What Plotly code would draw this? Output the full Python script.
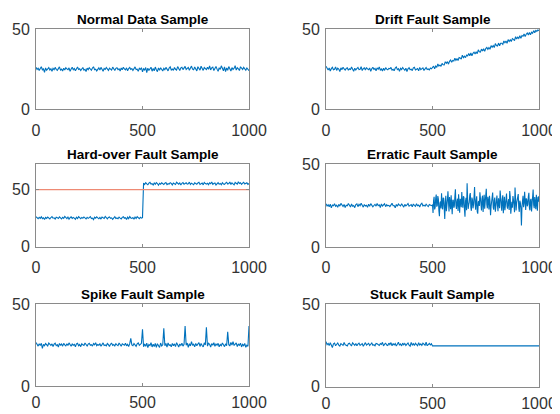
import plotly.graph_objects as go

# sample index (every 5th sample of 1000)
x = list(range(0, 1001, 5))

normal_y = [
    26.3, 24.9, 25.7, 24.2, 25.5, 26.6, 24.7, 25.2, 23.1, 25.9,
    24.4, 25.8, 26.1, 24.6, 25.3, 23.8, 25.6, 24.8, 26.2, 25.0,
    24.3, 25.4, 26.5, 24.5, 25.1, 23.9, 25.7, 24.6, 26.0, 25.3,
    24.8, 25.9, 23.7, 25.2, 26.3, 24.7, 25.5, 24.1, 25.8, 26.4,
    24.9, 25.3, 24.2, 25.6, 26.1, 24.5, 25.0, 23.6, 25.7, 24.8,
    26.0, 25.2, 24.4, 25.8, 26.6, 24.7, 25.1, 24.0, 25.4, 25.9,
    24.6, 26.2, 25.0, 23.8, 25.5, 24.9, 26.1, 25.3, 24.3, 25.7,
    25.1, 24.5, 26.4, 25.0, 24.2, 25.6, 26.0, 24.8, 25.3, 23.9,
    25.8, 24.7, 26.3, 25.2, 24.6, 25.9, 24.1, 25.5, 26.2, 24.9,
    25.4, 24.3, 25.7, 26.5, 24.8, 25.1, 23.7, 25.6, 24.9, 26.0,
    23.4, 25.3, 24.6, 26.1, 22.9, 25.7, 24.2, 25.0, 26.3, 23.8,
    25.5, 24.1, 26.4, 24.7, 23.5, 25.9, 24.4, 26.0, 25.1, 23.9,
    25.6, 24.8, 26.2, 25.3, 24.0, 25.8, 26.5, 24.6, 25.2, 24.3,
    26.1, 25.0, 24.5, 26.7, 25.4, 24.2, 25.9, 26.3, 24.8, 25.5,
    26.8, 24.9, 25.7, 26.2, 24.4, 25.6, 27.0, 25.1, 24.7, 26.4,
    25.3, 24.0, 26.6, 25.8, 24.5, 26.9, 25.2, 24.3, 26.1, 25.6,
    24.8, 26.3, 25.0, 27.1, 24.6, 25.9, 26.4, 24.2, 25.5, 26.8,
    25.1, 23.7, 26.0, 24.9, 27.2, 25.4, 24.1, 26.5, 23.6, 25.8,
    24.4, 26.7, 25.2, 23.9, 26.1, 24.8, 25.6, 27.3, 24.5, 26.0,
    25.3, 24.2, 26.6, 25.7, 24.9, 26.2, 25.0, 24.4, 25.8, 24.6,
    24.1,
]

drift_y = [
    26.9, 25.2, 24.6, 25.8, 23.9, 25.4, 26.2, 24.7, 25.0, 26.5,
    24.3, 25.7, 25.1, 23.6, 25.9, 24.8, 26.3, 25.2, 24.5, 25.6,
    26.0, 24.4, 25.3, 24.9, 26.4, 25.1, 23.8, 25.7, 24.6, 25.5,
    26.2, 24.8, 25.0, 26.6, 24.2, 25.4, 25.9, 24.5, 26.1, 25.2,
    24.7, 25.8, 23.7, 25.3, 26.3, 24.9, 25.5, 24.1, 25.9, 25.0,
    26.4, 24.6, 25.2, 23.9, 25.7, 24.3, 26.0, 25.1, 24.7, 25.6,
    25.3, 26.2, 24.5, 25.0, 24.1, 25.8, 26.5, 24.8, 25.4, 23.8,
    25.6, 24.9, 26.1, 25.2, 24.4, 25.7, 23.6, 25.3, 26.0, 24.7,
    25.1, 24.2, 25.9, 26.3, 24.6, 25.0, 25.5, 24.0, 26.2, 24.8,
    25.4, 25.9, 24.3, 25.7, 26.1, 24.9, 25.2, 24.6, 25.8, 25.3,
    25.9,
    27.0, 25.3, 27.0, 26.2, 28.3, 27.0, 27.7, 26.8, 28.7, 27.8,
    27.7, 29.7, 28.8, 29.8, 28.2, 30.0, 30.8, 29.4, 30.5, 30.2,
    31.9, 30.6, 31.6, 30.5, 32.4, 32.1, 31.4, 33.8, 32.3, 33.2,
    32.3, 33.9, 33.4, 34.9, 33.5, 35.2, 33.5, 35.0, 35.7, 34.6,
    35.9, 34.8, 37.2, 36.0, 35.8, 37.6, 36.5, 37.8, 36.2, 38.0,
    38.7, 37.5, 38.6, 37.5, 39.8, 38.8, 39.8, 38.6, 41.1, 39.8,
    39.5, 41.4, 39.7, 41.3, 41.3, 40.6, 42.7, 41.6, 42.7, 41.2,
    43.6, 42.4, 43.4, 42.4, 44.2, 43.7, 43.0, 45.4, 44.0, 45.1,
    44.3, 46.0, 44.3, 46.1, 45.7, 47.1, 45.5, 46.9, 47.7, 46.4,
    48.0, 46.6, 48.2, 47.5, 49.2, 47.8, 49.3, 48.7, 49.7, 49.1,
]

hardover_y = [
    26.2, 25.0, 24.4, 25.7, 24.8, 26.1, 24.5, 25.3, 23.8, 25.6,
    24.7, 25.9, 25.1, 24.3, 25.5, 26.3, 24.9, 25.2, 24.1, 25.8,
    25.4, 24.6, 26.0, 25.1, 24.2, 25.7, 24.8, 26.4, 25.0, 24.5,
    25.9, 24.0, 25.3, 26.1, 24.7, 25.5, 25.0, 23.9, 25.8, 24.6,
    26.2, 25.1, 24.4, 25.6, 24.9, 26.0, 25.3, 24.2, 25.7, 24.8,
    25.4, 26.3, 24.6, 25.0, 23.7, 25.8, 24.9, 26.1, 25.2, 24.5,
    25.6, 24.1, 25.9, 25.3, 24.7, 26.4, 25.0, 24.3, 25.5, 26.0,
    24.8, 25.2, 23.9, 25.7, 26.2, 24.6, 25.1, 24.4, 25.9, 25.0,
    24.3, 25.6, 26.1, 24.9, 25.4, 23.8, 25.8, 24.5, 26.3, 25.1,
    24.7, 25.5, 24.0, 25.9, 24.6, 26.2, 25.3, 24.4, 25.7, 24.9,
    25.4,
    55.8, 54.6, 56.1, 55.0, 54.3, 55.7, 56.4, 54.9, 55.3, 54.1,
    55.9, 54.7, 56.2, 55.4, 53.9, 55.6, 54.8, 56.0, 55.1, 54.5,
    55.7, 56.3, 54.4, 55.2, 54.9, 56.1, 55.5, 54.2, 55.8, 55.0,
    54.6, 56.5, 55.3, 54.8, 55.9, 54.1, 55.6, 56.2, 54.7, 55.4,
    56.0, 54.9, 55.2, 56.6, 54.5, 55.7, 55.0, 54.3, 56.1, 55.5,
    54.8, 55.9, 56.4, 54.6, 55.1, 55.8, 54.2, 56.3, 55.3, 54.9,
    55.6, 54.4, 56.0, 55.2, 56.7, 54.7, 55.4, 55.9, 54.1, 55.7,
    56.2, 54.8, 55.5, 54.3, 56.1, 55.0, 54.6, 55.8, 56.5, 54.9,
    55.3, 56.8, 54.5, 55.9, 55.1, 54.2, 56.3, 55.6, 54.8, 57.0,
    55.4, 56.1, 54.7, 55.8, 56.4, 54.9, 55.2, 56.0, 54.6, 55.5,
]
threshold_x = [0, 1000]
threshold_y = [50, 50]

# erratic part is sampled twice as densely (every 2.5) after 500
erratic_x = x[:101] + [500 + 2.5 * k for k in range(1, 201)]
erratic_y = [
    26.0, 24.7, 25.5, 24.2, 25.8, 23.6, 25.3, 24.9, 26.1, 24.5,
    25.2, 23.9, 25.7, 24.6, 26.3, 25.0, 24.4, 25.6, 23.8, 25.1,
    24.8, 26.2, 25.4, 24.1, 25.9, 24.6, 25.0, 23.7, 25.5, 26.0,
    24.3, 25.7, 24.9, 26.4, 25.2, 24.0, 25.6, 24.7, 25.1, 23.9,
    25.8, 24.5, 26.1, 25.3, 24.2, 25.0, 25.7, 24.6, 26.2, 24.9,
    25.4, 23.8, 25.9, 24.7, 25.2, 26.0, 24.3, 25.5, 24.8, 25.1,
    24.4, 25.8, 26.3, 24.9, 25.0, 23.6, 25.6, 24.5, 25.9, 25.2,
    24.7, 26.1, 25.3, 24.0, 25.7, 24.8, 25.4, 26.2, 24.6, 25.0,
    25.5, 24.2, 25.9, 25.1, 24.5, 26.0, 24.9, 25.3, 24.1, 25.7,
    26.4, 24.8, 25.2, 24.6, 25.8, 25.0, 24.3, 25.6, 25.1, 24.9,
    25.3,
    20.5, 27.8, 30.2, 22.6, 23.8, 29.4, 31.6, 24.3, 25.1, 30.7,
    28.9, 21.9, 18.6, 26.5, 27.4, 23.2, 32.3, 25.8, 22.7, 29.6,
    29.3, 23.5, 16.9, 27.1, 30.8, 21.5, 24.2, 28.3, 33.5, 24.9,
    21.4, 30.1, 27.0, 22.8, 31.2, 26.4, 19.8, 28.0, 28.5, 23.6,
    24.6, 30.4, 34.8, 25.2, 22.9, 27.5, 29.1, 21.7, 31.7, 26.1,
    20.6, 29.0, 27.9, 23.9, 33.1, 26.8, 23.7, 30.6, 30.0, 22.4,
    18.3, 27.7, 29.6, 22.1, 38.4, 28.6, 23.0, 25.5, 26.8, 31.3,
    32.5, 24.0, 21.8, 29.8, 28.4, 23.3, 25.3, 30.3, 36.2, 26.3,
    22.4, 28.2, 30.5, 21.3, 20.1, 27.2, 27.6, 24.7, 33.0, 29.5,
    24.5, 22.0, 29.2, 30.9, 21.1, 26.6, 31.4, 23.1, 26.0, 28.7,
    35.1, 25.6, 23.3, 30.2, 28.0, 22.6, 30.9, 27.3, 19.2, 24.4,
    26.7, 31.8, 32.8, 23.8, 22.5, 28.1, 29.8, 21.2, 25.0, 30.0,
    31.0, 24.8, 21.6, 29.4, 27.5, 23.4, 34.0, 26.9, 24.1, 21.8,
    28.7, 31.1, 20.4, 25.7, 30.3, 22.2, 26.2, 29.1, 32.2, 24.6,
    23.1, 27.0, 28.8, 22.3, 33.7, 30.5, 20.0, 25.9, 27.3, 23.7,
    30.7, 28.4, 25.4, 21.0, 35.9, 29.7, 22.0, 26.5, 28.1, 31.6,
    31.9, 23.5, 21.2, 27.9, 26.6, 22.9, 13.0, 24.2, 29.5, 30.8,
    24.0, 26.1, 33.3, 22.7, 22.3, 29.3, 28.6, 24.5, 25.7, 30.4,
    32.6, 23.6, 22.1, 28.3, 29.0, 21.4, 24.8, 27.8, 34.6, 25.3,
    23.4, 30.1, 27.7, 22.8, 31.5, 26.4, 21.9, 29.9, 30.1, 27.2,
]

spike_y = [
    26.5, 25.1, 24.3, 25.8, 24.7, 26.0, 22.9, 25.4, 24.6, 25.9,
    25.0, 24.4, 26.2, 25.3, 24.8, 25.7, 24.1, 25.5, 26.1, 24.6,
    25.2, 23.8, 25.9, 24.9, 25.6, 24.3, 26.0, 25.1, 24.5, 25.8,
    24.7, 26.3, 25.0, 24.2, 25.6, 24.9, 25.4, 23.9, 25.7, 26.1,
    24.6, 25.3, 24.0, 25.8, 25.1, 24.7, 26.2, 25.0, 24.4, 25.5,
    26.0, 24.8, 25.2, 24.3, 25.9, 25.1, 26.4, 24.6, 25.3, 24.9,
    25.7, 24.2, 25.5, 26.3, 24.7, 25.0, 24.5, 25.9, 25.2, 24.1,
    25.6, 26.0, 24.8, 25.3, 24.4, 25.8, 25.1, 24.6, 26.2, 25.0,
    24.3, 25.7, 25.2, 24.9, 26.1, 24.5, 25.4, 24.0, 25.8, 29.0,
    25.1, 24.6, 25.9, 25.3, 24.2, 25.7, 26.3, 24.8, 25.5, 26.0,
    34.6,
    23.9, 25.6, 24.2, 26.1, 23.4, 25.3, 24.7, 26.4, 23.8, 25.5,
    24.1, 26.0, 23.6, 25.8, 24.9, 23.5, 26.2, 24.4, 25.1, 35.2,
    24.6, 25.9, 23.7, 26.3, 24.8, 25.2, 23.9, 26.0, 24.5, 25.7,
    24.0, 26.4, 25.1, 23.8, 25.6, 24.7, 26.1, 24.3, 25.4, 36.6,
    24.9, 26.2, 23.6, 25.8, 24.4, 27.1, 24.8, 25.5, 23.9, 26.0,
    24.6, 25.3, 26.5, 24.1, 25.9, 24.7, 23.8, 26.3, 25.0, 35.8,
    24.3, 26.1, 25.4, 23.7, 25.8, 24.9, 26.4, 24.2, 25.6, 24.8,
    26.0, 23.9, 25.3, 24.6, 26.2, 25.1, 24.0, 25.7, 24.5, 33.1,
    25.2, 24.4, 26.6, 25.0, 27.0, 24.7, 25.8, 26.3, 24.1, 25.5,
    24.8, 26.1, 23.8, 25.4, 24.6, 25.9, 23.6, 24.9, 24.2, 36.6,
]

stuck_y = [
    27.2, 25.4, 26.1, 24.8, 26.5, 25.0, 23.6, 25.9, 26.3, 24.7,
    25.8, 26.4, 25.1, 24.5, 26.0, 25.6, 24.9, 26.7, 25.3, 25.0,
    24.6, 25.9, 26.2, 25.2, 24.8, 26.5, 25.4, 25.0, 26.1, 24.7,
    25.7, 26.3, 24.9, 25.5, 26.0, 24.4, 25.8, 26.6, 25.1, 25.4,
    26.2, 24.8, 25.6, 26.4, 25.0, 25.3, 24.7, 26.1, 25.9, 25.2,
    24.9, 26.0, 25.5, 26.8, 24.6, 25.7, 26.2, 25.1, 24.8, 26.3,
    25.4, 26.6, 24.7, 25.9, 25.2, 26.0, 24.5, 25.6, 26.9, 25.0,
    25.8, 24.6, 26.3, 25.3, 26.1, 24.9, 25.7, 26.4, 25.0, 24.4,
    26.7, 25.2, 25.9, 24.8, 26.2, 25.5, 24.7, 26.5, 25.1, 25.8,
    24.9, 26.3, 25.6, 25.0, 26.8, 24.7, 25.4, 26.1, 25.2, 25.9,
    24.6, 24.6,
]
stuck_x = x[:101] + [1000]

titles = ["Normal Data Sample", "Drift Fault Sample", "Hard-over Fault Sample",
          "Erratic Fault Sample", "Spike Fault Sample", "Stuck Fault Sample"]

blue = "#0072BD"
# the page body adds an 8px margin, so the figure is drawn 8px smaller
OFF = 8
W, H = 560 - OFF, 414 - OFF
# panel boxes in window pixels: (left, right, top, bottom)
boxes = [
    (36, 249, 29.3, 109.3), (326, 539, 29.3, 109.3),
    (36, 249, 163.5, 246.5), (326, 539, 164, 247),
    (36, 249, 304, 386), (326, 539, 304, 386.5),
]
yranges = [[0, 50], [0, 50], [0, 73], [0, 50], [0, 50], [0, 50]]
x_standoff = [6, 6, 6, 6, 2, 2]

fig = go.Figure()
series = [(x, normal_y), (x, drift_y), (x, hardover_y),
          (erratic_x, erratic_y), (x, spike_y), (stuck_x, stuck_y)]
for i, (sx, sy) in enumerate(series):
    ax = "" if i == 0 else str(i + 1)
    fig.add_trace(go.Scatter(x=sx, y=sy, mode="lines", line=dict(color=blue, width=1.1),
                             xaxis="x" + ax, yaxis="y" + ax, hoverinfo="skip"))
    if i == 2:
        fig.add_trace(go.Scatter(x=threshold_x, y=threshold_y, mode="lines",
                                 line=dict(color="#EE8A74", width=1.2),
                                 xaxis="x3", yaxis="y3", hoverinfo="skip"))

axis_style = dict(showline=True, mirror="ticks", linecolor="#8a8a8a", linewidth=1,
                  ticks="inside", ticklen=3, tickcolor="#8a8a8a", showgrid=False,
                  zeroline=False, automargin=False,
                  tickfont=dict(size=16, color="#333333", family="Liberation Sans, Arial"))
layout = dict(width=W, height=H, margin=dict(l=0, r=0, t=0, b=0),
              paper_bgcolor="white", plot_bgcolor="white", showlegend=False,
              annotations=[])
for i, (l, r, t, b) in enumerate(boxes):
    ax = "" if i == 0 else str(i + 1)
    l, r, t, b = l - OFF, r - OFF, t - OFF, b - OFF
    layout["xaxis" + ax] = dict(axis_style, domain=[l / W, r / W], range=[0, 1000],
                                tickvals=[0, 500, 1000], anchor="y" + ax,
                                ticklabelstandoff=x_standoff[i])
    layout["yaxis" + ax] = dict(axis_style, domain=[1 - b / H, 1 - t / H],
                                range=yranges[i], tickvals=[0, 50], anchor="x" + ax,
                                ticklabelstandoff=2)
    layout["annotations"].append(dict(
        text="<b>" + titles[i] + "</b>", x=(l + r) / 2 / W, y=1 - (t - 9.5) / H,
        xref="paper", yref="paper", xanchor="center", yanchor="middle",
        showarrow=False, font=dict(size=13.5, color="black",
                                   family="Liberation Sans, Arial")))

fig.update_layout(**layout)
fig.write_html("out.html")
